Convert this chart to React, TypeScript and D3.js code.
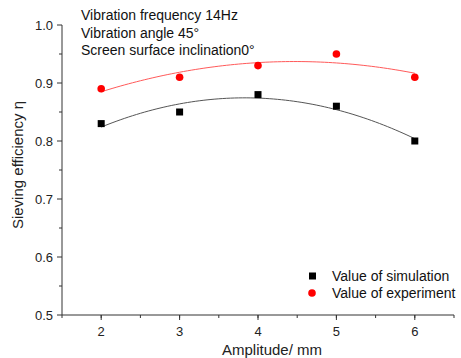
import React from "react";
import * as d3 from "d3";

const amplitudes = [2, 3, 4, 5, 6];
const simulation = [0.83, 0.85, 0.88, 0.86, 0.8];
const experiment = [0.89, 0.91, 0.93, 0.95, 0.91];
const xTicks = [2, 3, 4, 5, 6];
const yTicks = [0.5, 0.6, 0.7, 0.8, 0.9, 1.0];
const annotations = ["Vibration frequency 14Hz", "Vibration angle 45°", "Screen surface inclination0°"];
const legendLabels = ["Value of simulation", "Value of experiment"];

const W = 461, H = 358;
const font = "Liberation Sans, Arial, sans-serif";

// quadratic least squares fit
function quadFit(xs: number[], ys: number[]) {
  const n = xs.length;
  const s = [0, 0, 0, 0, 0], t = [0, 0, 0];
  for (let i = 0; i < n; i++) {
    const x = xs[i], y = ys[i];
    for (let k = 0; k < 5; k++) s[k] += Math.pow(x, k);
    for (let k = 0; k < 3; k++) t[k] += Math.pow(x, k) * y;
  }
  const A = [[s[0], s[1], s[2], t[0]], [s[1], s[2], s[3], t[1]], [s[2], s[3], s[4], t[2]]];
  for (let i = 0; i < 3; i++) {
    for (let j = i + 1; j < 3; j++) {
      const f = A[j][i] / A[i][i];
      for (let k = i; k < 4; k++) A[j][k] -= f * A[i][k];
    }
  }
  const c = [0, 0, 0];
  for (let i = 2; i >= 0; i--) {
    let v = A[i][3];
    for (let k = i + 1; k < 3; k++) v -= A[i][k] * c[k];
    c[i] = v / A[i][i];
  }
  return (x: number) => c[0] + c[1] * x + c[2] * x * x;
}

export default function App() {
  const x = d3.scaleLinear().domain([1.5, 6.5]).range([62, 454]);
  const y = d3.scaleLinear().domain([0.5, 1.0]).range([315, 25]);
  const xs = d3.range(2, 6.0001, 0.05);
  const line = d3.line<number[]>().x((d) => x(d[0])).y((d) => y(d[1]));
  const fSim = quadFit(amplitudes, simulation);
  const fExp = quadFit(amplitudes, experiment);
  const xMinor = d3.range(1.5, 6.51, 0.5);
  const yMinor = d3.range(0.55, 1.0, 0.1);
  const axisColor = "#333";
  return (
    <svg width={W} height={H} style={{ position: "absolute", left: 0, top: 0, background: "#fff" }} fontFamily={font}>
      <rect width={W} height={H} fill="#fff" />
      {/* axes */}
      <line x1={62} x2={62} y1={25} y2={315} stroke={axisColor} strokeWidth={1} />
      <line x1={62} x2={454} y1={315} y2={315} stroke={axisColor} strokeWidth={1} />
      {yTicks.map((t) => (
        <g key={"y" + t}>
          <line x1={57} x2={62} y1={y(t)} y2={y(t)} stroke={axisColor} />
          <text x={53} y={y(t)} dy="0.35em" textAnchor="end" fontSize={13} fill="#222">{t.toFixed(1)}</text>
        </g>
      ))}
      {yMinor.map((t) => (
        <line key={"ym" + t} x1={59} x2={62} y1={y(t)} y2={y(t)} stroke={axisColor} />
      ))}
      {xTicks.map((t) => (
        <g key={"x" + t}>
          <line x1={x(t)} x2={x(t)} y1={315} y2={320} stroke={axisColor} />
          <text x={x(t)} y={336} textAnchor="middle" fontSize={13} fill="#222">{t}</text>
        </g>
      ))}
      {xMinor.map((t) => (
        <line key={"xm" + t} x1={x(t)} x2={x(t)} y1={315} y2={318} stroke={axisColor} />
      ))}
      <text x={272} y={355} textAnchor="middle" fontSize={15} fill="#222">Amplitude/ mm</text>
      <text transform={`translate(23,165) rotate(-90)`} textAnchor="middle" fontSize={15} fill="#222">Sieving efficiency η</text>
      {/* fit lines */}
      <path d={line(xs.map((v) => [v, fSim(v)])) || ""} fill="none" stroke="#555" strokeWidth={1} />
      <path d={line(xs.map((v) => [v, fExp(v)])) || ""} fill="none" stroke="#ff5a5a" strokeWidth={1} />
      {/* points */}
      {amplitudes.map((a, i) => (
        <rect key={"s" + i} x={x(a) - 3.5} y={y(simulation[i]) - 3.5} width={7} height={7} fill="#000" />
      ))}
      {amplitudes.map((a, i) => (
        <circle key={"e" + i} cx={x(a)} cy={y(experiment[i])} r={3.8} fill="#ff0000" />
      ))}
      {/* annotations */}
      {annotations.map((t, i) => (
        <text key={"a" + i} x={81} y={20 + i * 17.5} fontSize={14} fill="#111">{t}</text>
      ))}
      {/* legend */}
      <rect x={309} y={272.5} width={7} height={7} fill="#000" />
      <text x={332} y={276} dy="0.35em" fontSize={14} fill="#111">{legendLabels[0]}</text>
      <circle cx={312} cy={293} r={3.8} fill="#ff0000" />
      <text x={332} y={293} dy="0.35em" fontSize={14} fill="#111">{legendLabels[1]}</text>
    </svg>
  );
}
